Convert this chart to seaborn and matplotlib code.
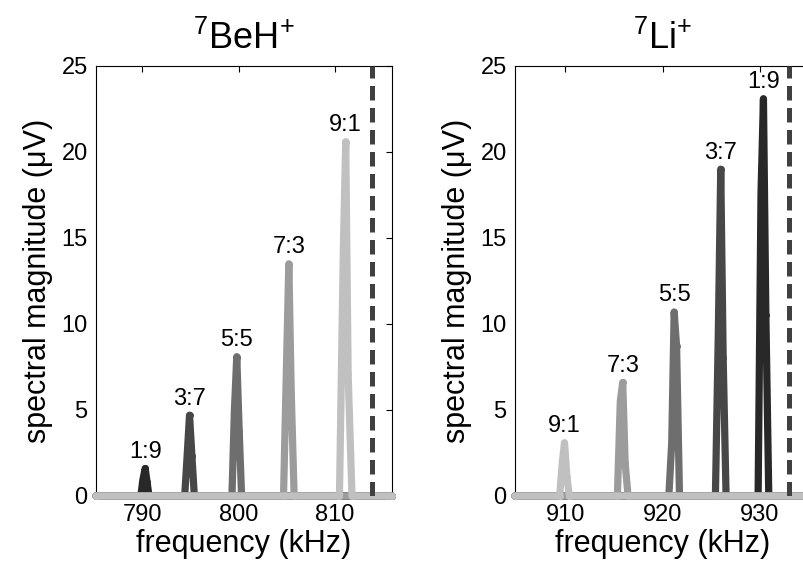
import matplotlib
matplotlib.use("Agg")
import matplotlib.pyplot as plt
import pandas as pd
import seaborn as sns

# Mixing ratios, darkest to lightest; drawn in this order
RATIOS = ["1:9", "3:7", "5:5", "7:3", "9:1"]
RATIO_COLORS = ["#282828", "#474747", "#6e6e6e", "#9c9c9c", "#c0c0c0"]

# 7BeH+ spectra (kHz, microvolts); every trace is flat zero over the span
BEH_SPAN = [785.2, 815.9]
BEH_FREQ = [
    [789.85, 790.05, 790.3, 790.5, 790.7],
    [794.4, 794.65, 794.9, 795.15, 795.4],
    [799.3, 799.55, 799.8, 800.05, 800.3],
    [804.65, 804.95, 805.2, 805.45, 805.75],
    [810.45, 810.85, 811.1, 811.35, 811.75],
]
BEH_MAG = [
    [0, 0.9, 1.6, 0.8, 0],
    [0, 2.3, 4.7, 2.3, 0],
    [0, 4.9, 8.1, 3.8, 0],
    [0, 7.4, 13.5, 6.0, 0],
    [0, 14.2, 20.6, 7.1, 0],
]
BEH_MARKER = 813.8

# 7Li+ spectra
LI_SPAN = [904.8, 935.3]
LI_FREQ = [
    [929.85, 930.15, 930.4, 930.65, 930.95],
    [925.45, 925.75, 926.0, 926.25, 926.55],
    [920.65, 920.95, 921.2, 921.45, 921.75],
    [915.35, 915.65, 915.9, 916.15, 916.45],
    [909.4, 909.7, 909.9, 910.15, 910.4],
]
LI_MAG = [
    [0, 17.6, 23.1, 10.5, 0],
    [0, 9.5, 19.0, 8.0, 0],
    [0, 3.1, 10.7, 8.7, 0],
    [0, 5.5, 6.6, 1.9, 0],
    [0, 2.1, 3.1, 1.1, 0],
]
LI_MARKER = 933.0

BEH_XTICKS = [790, 800, 810]
LI_XTICKS = [910, 920, 930]
Y_TICKS = [0, 5, 10, 15, 20, 25]

sns.set_style("white")
plt.rcParams["font.family"] = ["Liberation Sans", "DejaVu Sans"]
plt.rcParams["mathtext.fontset"] = "custom"
plt.rcParams["mathtext.rm"] = "Liberation Sans"
plt.rcParams["mathtext.it"] = "Liberation Sans:italic"
plt.rcParams["mathtext.bf"] = "Liberation Sans:bold"
plt.rcParams["text.color"] = "black"
plt.rcParams["axes.labelcolor"] = "black"
plt.rcParams["xtick.color"] = "black"
plt.rcParams["ytick.color"] = "black"


def spectra_frame(span, freqs, mags):
    rows = []
    for ratio, f, m in zip(RATIOS, freqs, mags):
        for x, y in zip([span[0]] + f + [span[1]], [0] + m + [0]):
            rows.append({"freq": x, "mag": y, "ratio": ratio})
    return pd.DataFrame(rows)


def draw_panel(ax, span, freqs, mags, marker_x, xticks, title):
    df = spectra_frame(span, freqs, mags)
    sns.lineplot(
        data=df, x="freq", y="mag", hue="ratio", hue_order=RATIOS,
        palette=dict(zip(RATIOS, RATIO_COLORS)), estimator=None,
        marker="o", markersize=5, markeredgewidth=0, linewidth=5.2,
        legend=False, ax=ax,
    )
    for line in ax.get_lines():
        line.set_solid_capstyle("round")
        line.set_solid_joinstyle("round")
        line.set_clip_on(False)
        line.set_zorder(3)
    ax.axvline(marker_x, color="#404040", linewidth=3.6,
               linestyle=(0, (2.9, 1.5)), zorder=4)
    for ratio, f, m in zip(RATIOS, freqs, mags):
        k = max(range(len(m)), key=lambda i: m[i])
        ax.annotate(ratio, (f[k], m[k]), xytext=(0, 4),
                    textcoords="offset points", ha="center", va="bottom",
                    fontsize=17, color="black")
    ax.set_xlim(span)
    ax.set_ylim(0, 25)
    ax.set_xticks(xticks)
    ax.set_yticks(Y_TICKS)
    ax.tick_params(direction="in", top=True, right=True, length=4,
                   width=0.8, labelsize=17, pad=6, colors="black")
    for s in ax.spines.values():
        s.set_visible(True)
        s.set_color("black")
        s.set_linewidth(0.8)
    ax.set_xlabel("frequency (kHz)", fontsize=22, labelpad=2)
    ax.set_ylabel("spectral magnitude (μV)", fontsize=22, labelpad=6)
    ax.set_title(title, fontsize=26, pad=12)


fig = plt.figure(figsize=(8.04, 5.77), dpi=100)
ax1 = fig.add_axes([96 / 804, 81 / 577, 296 / 804, 430 / 577])
ax2 = fig.add_axes([515 / 804, 81 / 577, 296 / 804, 430 / 577])

draw_panel(ax1, BEH_SPAN, BEH_FREQ, BEH_MAG, BEH_MARKER, BEH_XTICKS,
           r"$^{7}$BeH$^{+}$")
draw_panel(ax2, LI_SPAN, LI_FREQ, LI_MAG, LI_MARKER, LI_XTICKS,
           r"$^{7}$Li$^{+}$")

fig.savefig("out.png", dpi=100)
